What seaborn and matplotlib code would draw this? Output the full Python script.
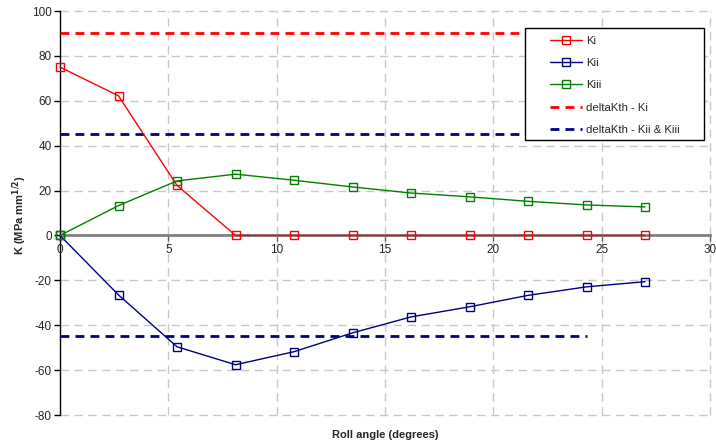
import matplotlib
matplotlib.use("Agg")
import matplotlib.pyplot as plt
from matplotlib.patches import Rectangle
import seaborn as sns
import pandas as pd

# Roll angle samples (degrees)
roll_angle = [0, 2.7, 5.4, 8.1, 10.8, 13.5, 16.2, 18.9, 21.6, 24.3, 27.0]

# Stress intensity factors (MPa mm^1/2)
k_i = [75.0, 62.2, 22.3, 0, 0, 0, 0, 0, 0, 0, 0]
k_ii = [0, -26.5, -49.6, -57.6, -51.8, -43.4, -36.3, -31.8, -26.7, -22.9, -20.6]
k_iii = [0, 13.3, 24.3, 27.3, 24.6, 21.6, 18.9, 17.2, 15.2, 13.6, 12.7]

# Threshold levels
threshold_x = [0, 24.3]
delta_kth_i = [90, 90]
delta_kth_ii_iii_pos = [45, 45]
delta_kth_ii_iii_neg = [-45, -45]

sns.set_theme(style="white")
plt.rcParams["font.family"] = ["Liberation Sans", "DejaVu Sans"]
plt.rcParams["axes.unicode_minus"] = False

W, H = 716, 447
fig = plt.figure(figsize=(W / 100, H / 100), dpi=100)
ax_l, ax_r, ax_t, ax_b = 60, 710, 11, 415
ax = fig.add_axes([ax_l / W, 1 - ax_b / H, (ax_r - ax_l) / W, (ax_b - ax_t) / H])


def ax_x(px):
    return (px - ax_l) / (ax_r - ax_l)


def ax_y(py):
    return (ax_b - py) / (ax_b - ax_t)


grid_kw = dict(color="#C8C8C8", lw=1.0, ls=(0, (6, 4)), zorder=0, clip_on=False)
for gx in range(5, 31, 5):
    ax.axvline(gx, **grid_kw)
for gy in range(-80, 101, 20):
    if gy != 0:
        ax.axhline(gy, **grid_kw)

series = [
    ("Ki", k_i, "#FF0000"),
    ("Kii", k_ii, "#000080"),
    ("Kiii", k_iii, "#008000"),
]
for name, vals, col in series:
    df = pd.DataFrame({"x": roll_angle, "y": vals})
    sns.lineplot(data=df, x="x", y="y", ax=ax, color=col, lw=1.0,
                 marker="s", markersize=5.5, markerfacecolor="none",
                 markeredgecolor=col, markeredgewidth=1.0, label=name,
                 zorder=4, clip_on=False)

dash = (0, (3.2, 2.2))
sns.lineplot(x=threshold_x, y=delta_kth_i, ax=ax, color="#FF0000", lw=2.0,
             ls=dash, label="deltaKth - Ki", zorder=3)
sns.lineplot(x=threshold_x, y=delta_kth_ii_iii_pos, ax=ax, color="#000080",
             lw=2.0, ls=dash, label="deltaKth - Kii & Kiii", zorder=3)
sns.lineplot(x=threshold_x, y=delta_kth_ii_iii_neg, ax=ax, color="#000080",
             lw=2.0, ls=dash, label="_nolegend_", zorder=3)

ax.set_xlim(0, 30)
ax.set_ylim(-80, 100)
ax.set_xticks(range(0, 31, 5))
ax.set_yticks(range(-80, 101, 20))

for side in ("top", "right"):
    ax.spines[side].set_visible(False)
ax.spines["left"].set_color("black")
ax.spines["left"].set_linewidth(1.0)
ax.spines["bottom"].set_position(("data", 0))
ax.spines["bottom"].set_color("#808080")
ax.spines["bottom"].set_linewidth(2.0)
ax.spines["bottom"].set_zorder(2)

ax.tick_params(axis="y", direction="out", length=4, width=1, color="black",
               labelsize=8.5, pad=2, left=True)
ax.tick_params(axis="x", direction="out", length=4, width=1, color="#606060",
               labelsize=8.5, pad=2, bottom=True)

ax.set_xlabel("")
ax.set_ylabel("")
fig.text(385 / W, 1 - 435 / H, "Roll angle (degrees)", ha="center",
         va="center", fontsize=8, fontweight="bold")
fig.text(20 / W, 1 - 215 / H, r"K (MPa mm$^{\mathbf{1/2}}$)", ha="center",
         va="center", rotation=90, fontsize=8, fontweight="bold")

# Legend box
box = Rectangle((ax_x(525), ax_y(140)), ax_x(704) - ax_x(525),
                ax_y(28) - ax_y(140), transform=ax.transAxes,
                facecolor="white", edgecolor="black", lw=1.0, zorder=9,
                clip_on=False)
ax.add_patch(box)

leg = ax.legend(loc="upper left", bbox_to_anchor=(ax_x(550), ax_y(36)),
                frameon=False, fontsize=8.2, borderpad=0, labelspacing=1.07,
                handlelength=2.85, handletextpad=0.35, borderaxespad=0)
leg.set_zorder(10)

fig.savefig("out.png", dpi=100)
